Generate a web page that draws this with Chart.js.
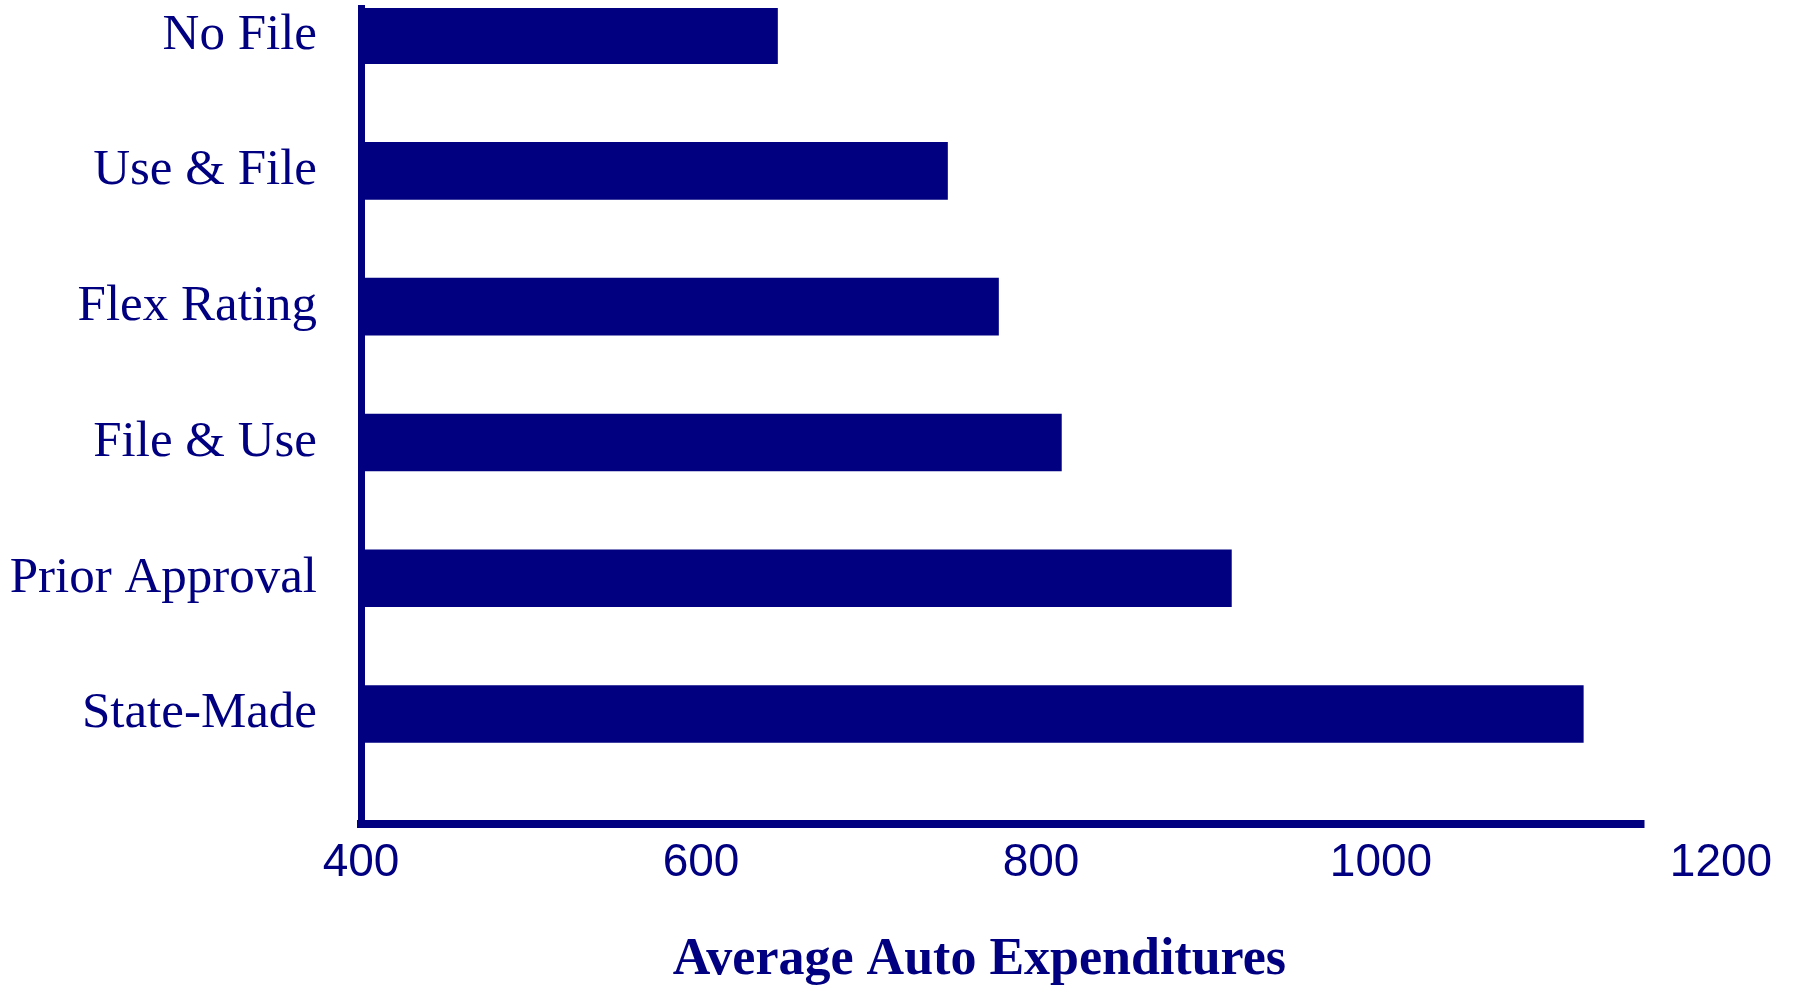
<!DOCTYPE html>
<html>
<head>
<meta charset="utf-8">
<script src="https://cdn.jsdelivr.net/npm/chart.js@4"></script>
<style>
  html, body { margin: 0; padding: 0; background: #fff; }
  #wrap { width: 1797px; height: 986px; }
</style>
</head>
<body>
<div id="wrap"><canvas id="chart"></canvas></div>
<script>
// data
const categories = ["No File", "Use & File", "Flex Rating", "File & Use", "Prior Approval", "State-Made"];
const expenditures = [645, 745, 775, 812, 912, 1119];
const xTicks = [400, 600, 800, 1000, 1200];
const xTitle = "Average Auto Expenditures";

const navy = "#000080";
const axisEnd = 1155; // bottom axis line stops short of the last tick

// draws the shortened bottom axis line and the axis title
const extras = {
  id: "extras",
  afterDraw(chart) {
    const ctx = chart.ctx;
    const x = chart.scales.x;
    const y = chart.scales.y;
    ctx.save();
    ctx.strokeStyle = navy;
    ctx.lineWidth = 8;
    ctx.beginPath();
    ctx.moveTo(x.left - 4, y.bottom);
    ctx.lineTo(x.getPixelForValue(axisEnd), y.bottom);
    ctx.stroke();

    ctx.fillStyle = navy;
    ctx.font = "bold 52px 'Liberation Serif', 'Times New Roman', serif";
    ctx.textAlign = "center";
    ctx.textBaseline = "middle";
    ctx.fillText(xTitle, chart.width * 0.545, 961);
    ctx.restore();
  }
};

const ctx = document.getElementById("chart").getContext("2d");
new Chart(ctx, {
  type: "bar",
  data: {
    datasets: [{
      data: categories.map((c, i) => ({ y: i, x: expenditures[i] })),
      backgroundColor: navy,
      borderWidth: 0,
      barThickness: 57,
      base: 400
    }]
  },
  options: {
    indexAxis: "y",
    responsive: true,
    maintainAspectRatio: false,
    animation: false,
    layout: { padding: { top: 8, left: 0, bottom: 0, right: 76 } },
    plugins: { legend: { display: false }, tooltip: { enabled: false } },
    scales: {
      x: {
        type: "linear",
        min: 400,
        max: 1200,
        afterBuildTicks: (s) => { s.ticks = xTicks.map(v => ({ value: v })); },
        grid: { display: false, drawTicks: false },
        border: { display: false },
        ticks: {
          color: navy,
          padding: 12,
          font: { family: "'Liberation Sans', Arial, sans-serif", size: 46 },
          callback: (v) => String(v)
        },
        afterFit: (s) => { s.height = 162; }
      },
      y: {
        type: "linear",
        reverse: true,
        offset: false,
        min: -0.2,
        max: 5.81,
        afterBuildTicks: (s) => { s.ticks = categories.map((c, i) => ({ value: i })); },
        grid: { display: false, drawTicks: false },
        border: { display: true, color: navy, width: 7 },
        ticks: {
          color: navy,
          padding: 44,
          font: { family: "'Liberation Serif', 'Times New Roman', serif", size: 51 },
          callback: (v) => categories[v] ?? ""
        },
        afterFit: (s) => { s.width = 361; s.paddingTop = 0; s.paddingBottom = 0; }
      }
    }
  },
  plugins: [extras]
});
</script>
</body>
</html>
